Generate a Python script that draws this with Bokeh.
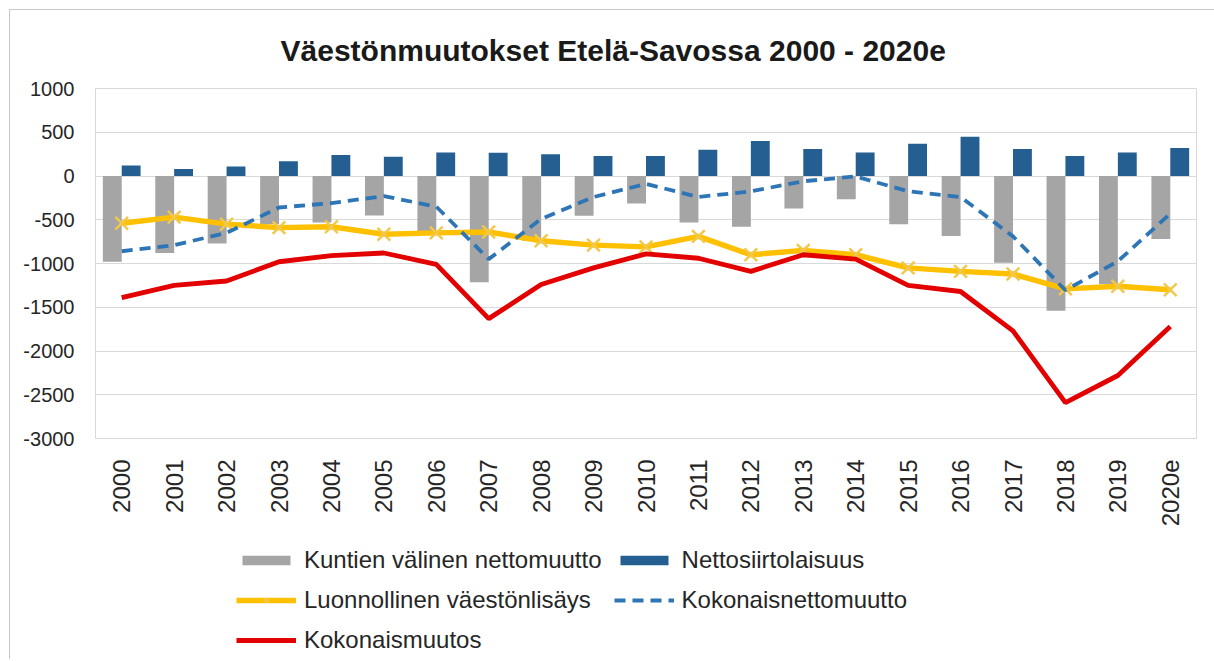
import math
from bokeh.plotting import figure
from bokeh.layouts import column
from bokeh.models import (FactorRange, Range1d, FixedTicker, Legend, LegendItem,
                          ColumnDataSource)
from bokeh.transform import dodge
from bokeh.embed import file_html
from bokeh.resources import INLINE

years = ["2000", "2001", "2002", "2003", "2004", "2005", "2006", "2007", "2008", "2009",
         "2010", "2011", "2012", "2013", "2014", "2015", "2016", "2017", "2018", "2019", "2020e"]
kuntien = [-980, -880, -770, -550, -530, -450, -630, -1215, -740, -455,
           -315, -530, -580, -370, -265, -550, -685, -990, -1540, -1235, -720]
nettosiirto = [120, 80, 110, 170, 240, 220, 270, 265, 250, 230,
               230, 300, 400, 310, 270, 370, 450, 310, 230, 270, 320]
luonnollinen = [-540, -470, -550, -590, -580, -665, -650, -640, -740, -790,
                -810, -690, -900, -850, -900, -1050, -1090, -1120, -1290, -1260, -1300]
kokonaisnetto = [-860, -790, -650, -360, -310, -230, -350, -950, -490, -240,
                 -90, -240, -175, -60, -5, -175, -240, -690, -1305, -975, -430]
kokonaismuutos = [-1390, -1250, -1200, -980, -910, -880, -1010, -1630, -1240, -1050,
                  -890, -940, -1090, -900, -950, -1250, -1320, -1770, -2590, -2280, -1720]
y_ticks = [-3000, -2500, -2000, -1500, -1000, -500, 0, 500, 1000]

labels = ["Kuntien välinen nettomuutto", "Nettosiirtolaisuus",
          "Luonnollinen väestönlisäys", "Kokonaisnettomuutto", "Kokonaismuutos"]
title_text = "Väestönmuutokset Etelä-Savossa 2000 - 2020e"

GRAY, BLUE, YELLOW, YMARK, DASH, RED = "#a5a5a5", "#255e91", "#ffc000", "#f2c84b", "#2e75b6", "#e30000"
FONT = "Liberation Sans"

src = ColumnDataSource(dict(year=years, kuntien=kuntien, netto=nettosiirto,
                            luon=luonnollinen, knetto=kokonaisnetto, kmuutos=kokonaismuutos))

p = figure(x_range=FactorRange(*years), y_range=Range1d(-3000, 1000),
           width=1204, height=524, output_backend="svg", toolbar_location=None,
           min_border_left=85, min_border_right=18, min_border_top=77, min_border_bottom=96)

p.title.text = title_text
p.title.text_font = FONT
p.title.text_font_size = "30px"
p.title.text_font_style = "bold"
p.title.text_color = "#1a1a1a"
p.title.align = "left"
p.title.offset = 185
p.title.standoff = 43

p.outline_line_color = "#d9d9d9"
p.xgrid.grid_line_color = None
p.ygrid.grid_line_color = "#d9d9d9"
p.yaxis.ticker = FixedTicker(ticks=y_ticks)
p.yaxis.major_label_overrides = {t: str(t) for t in y_ticks}

for ax in (p.xaxis, p.yaxis):
    ax.axis_line_color = None
    ax.major_tick_line_color = None
    ax.minor_tick_line_color = None
    ax.major_label_text_font = FONT
    ax.major_label_text_color = "#262626"

p.yaxis.major_label_text_font_size = "20px"
p.yaxis.major_label_standoff = 15
p.xaxis.major_label_text_font_size = "24px"
p.xaxis.major_label_orientation = math.pi / 2
p.xaxis.major_label_standoff = 15

p.vbar(x=dodge("year", -0.18, range=p.x_range), top="kuntien", bottom=0, width=0.36,
       source=src, fill_color=GRAY, line_color=None)
p.vbar(x=dodge("year", 0.18, range=p.x_range), top="netto", bottom=0, width=0.36,
       source=src, fill_color=BLUE, line_color=None)
p.line(x="year", y="luon", source=src, line_color=YELLOW, line_width=5.5)
p.scatter(x="year", y="luon", source=src, marker="x", size=18, line_color=YMARK, line_width=2.5)
p.line(x="year", y="knetto", source=src, line_color=DASH, line_width=3.8, line_dash="11 7")
p.line(x="year", y="kmuutos", source=src, line_color=RED, line_width=4.8)

# legend panel: swatch renderers sit outside the visible range
lg = figure(width=1204, height=125, output_backend="svg", toolbar_location=None,
            x_range=Range1d(0, 1), y_range=Range1d(0, 1),
            x_axis_type=None, y_axis_type=None,
            min_border_left=0, min_border_right=0, min_border_top=0, min_border_bottom=0)
lg.grid.visible = False
lg.outline_line_color = None
off = dict(x=[-10, -9], y=[-10, -10])
l_gray = lg.vbar(x=[-10], top=[-10], width=0.1, fill_color=GRAY, line_color=None)
l_blue = lg.vbar(x=[-10], top=[-10], width=0.1, fill_color=BLUE, line_color=None)
l_yl = lg.line(x=off["x"], y=off["y"], line_color=YELLOW, line_width=5.5)
l_ym = lg.scatter(x=[-10], y=[-10], marker="x", size=18, line_color=YMARK, line_width=2.5)
l_dash = lg.line(x=off["x"], y=off["y"], line_color=DASH, line_width=3.8, line_dash="11 7")
l_red = lg.line(x=off["x"], y=off["y"], line_color=RED, line_width=4.8)

legend = Legend(items=[
    LegendItem(label=labels[0], renderers=[l_gray]),
    LegendItem(label=labels[1], renderers=[l_blue]),
    LegendItem(label=labels[2], renderers=[l_yl, l_ym]),
    LegendItem(label=labels[3], renderers=[l_dash]),
    LegendItem(label=labels[4], renderers=[l_red]),
], location=(141, 5), orientation="horizontal", ncols=2,
    padding=0, margin=0, spacing=12, label_standoff=8,
    glyph_width=60, glyph_height=12,
    label_text_font=FONT, label_text_font_size="24px", label_text_color="#262626",
    border_line_color=None, background_fill_alpha=0)
lg.add_layout(legend)

layout = column(p, lg, spacing=0,
                styles={"margin-left": "9px", "margin-top": "9px",
                        "border-top": "1px solid #c8c8c8", "border-left": "1px solid #c8c8c8"})

open("out.html", "w").write(file_html(layout, INLINE))
